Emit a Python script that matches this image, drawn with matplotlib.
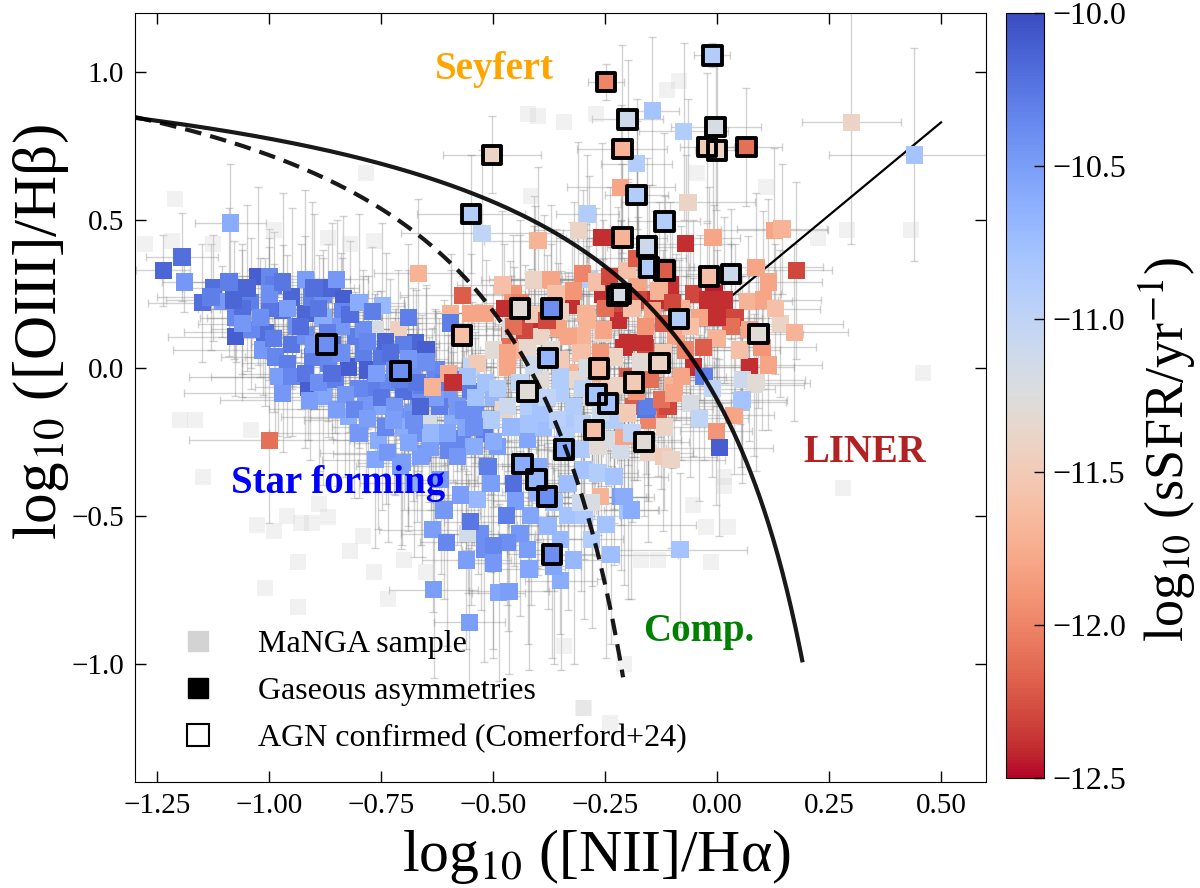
import numpy as np
import matplotlib
matplotlib.use('Agg')
import matplotlib.pyplot as plt
from matplotlib.lines import Line2D
from matplotlib.ticker import FuncFormatter

plt.rcParams['font.family'] = ['Liberation Serif', 'DejaVu Serif']
plt.rcParams['mathtext.fontset'] = 'stix'
plt.rcParams['axes.unicode_minus'] = True

# --- star-forming branch (gaseous asymmetries) ---
sf_nii = [-1.237, -1.195, -1.19, -1.15, -1.125, -1.09, -1.105, -1.076, -1.075, -1.042,
          -1.025, -1.0, -0.99, -1.01, -1.04, -1.015, -0.987, -0.97, -0.95, -0.94,
          -0.96, -0.97, -0.913, -0.92, -0.905, -0.88, -0.86, -0.835, -0.837, -0.88,
          -0.904, -0.868, -0.88, -0.91, -0.853, -0.823, -0.808, -0.79, -0.78, -0.763,
          -0.748, -0.79, -0.823, -0.785, -0.8, -0.763, -0.734, -0.748, -0.757, -0.718,
          -0.712, -0.69, -0.673, -0.65, -0.68, -0.628, -0.644, -0.667, -0.69, -0.628,
          -0.658, -0.59, -0.763, -0.703, -1.087, -0.95, -0.92, -0.86, -0.84, -0.75,
          -0.72, -0.70, -0.74, -0.66, -0.60, -0.62, -0.70, -0.85, -0.80, -1.0,
          -1.05, -0.98, -0.92, -0.89, -0.74, -0.68, -0.57, -0.55]
sf_oiii = [0.33, 0.375, 0.29, 0.22, 0.27, 0.29, 0.225, 0.105, 0.17, 0.22,
           0.31, 0.31, 0.28, 0.12, 0.13, 0.06, 0.037, 0.195, 0.24, 0.14,
           0.016, -0.085, -0.065, 0.185, 0.24, 0.25, 0.27, 0.235, 0.19, 0.17,
           0.037, 0.016, -0.097, -0.11, -0.04, 0.003, 0.105, 0.05, -0.007, 0.13,
           0.21, 0.13, -0.165, -0.12, -0.22, -0.065, -0.05, -0.13, -0.245, -0.165,
           0.13, 0.17, 0.085, 0.06, -0.03, -0.007, -0.175, -0.097, -0.23, -0.23,
           -0.29, -0.165, -0.31, -0.32, 0.49, 0.08, 0.11, 0.08, 0.14, 0.04,
           0.0, 0.08, 0.09, -0.06, -0.09, -0.13, -0.08, -0.14, -0.07, 0.2,
           0.27, -0.03, 0.3, 0.2, -0.2, -0.15, -0.24, -0.08]
sf_ssfr = [-10.15, -10.2, -10.45, -10.2, -10.2, -10.3, -10.45, -10.1, -10.35, -10.3,
           -10.1, -10.35, -10.3, -10.2, -10.35, -10.45, -10.35, -10.2, -10.15, -10.4,
           -10.3, -10.45, -10.1, -10.15, -10.3, -10.4, -10.15, -10.1, -10.35, -10.6,
           -10.3, -10.35, -10.55, -10.5, -10.3, -10.1, -10.3, -10.3, -10.1, -11.2,
           -10.7, -10.4, -10.6, -10.45, -10.45, -10.3, -10.35, -10.55, -10.6, -10.4,
           -11.45, -10.3, -10.15, -10.1, -10.4, -10.35, -11.2, -10.4, -10.5, -10.4,
           -10.45, -10.6, -10.55, -10.5, -10.6, -10.25, -10.4, -10.2, -10.45, -10.25,
           -10.4, -10.3, -10.15, -10.3, -10.45, -10.3, -10.2, -10.5, -10.35, -10.25,
           -10.15, -10.5, -10.5, -10.25, -10.35, -10.45, -10.35, -10.3]
sf_enii = [0.06, 0.08, 0.05, 0.12, 0.07, 0.1, 0.06, 0.15, 0.08, 0.12,
           0.05, 0.1, 0.07, 0.18, 0.09, 0.2, 0.12, 0.06, 0.08, 0.15,
           0.1, 0.22, 0.12, 0.08, 0.06, 0.1, 0.05, 0.07, 0.12, 0.09,
           0.15, 0.1, 0.18, 0.2, 0.12, 0.08, 0.1, 0.14, 0.09, 0.06,
           0.05, 0.11, 0.15, 0.1, 0.2, 0.08, 0.12, 0.16, 0.1, 0.07,
           0.08, 0.06, 0.1, 0.05, 0.09, 0.12, 0.14, 0.07, 0.1, 0.08,
           0.2, 0.06, 0.12, 0.1, 0.08, 0.09, 0.1, 0.06, 0.07, 0.11,
           0.05, 0.08, 0.06, 0.1, 0.07, 0.12, 0.09, 0.15, 0.11, 0.13,
           0.07, 0.2, 0.1, 0.08, 0.12, 0.09, 0.06, 0.1]
sf_eoiii = [0.12, 0.15, 0.1, 0.2, 0.18, 0.25, 0.12, 0.2, 0.15, 0.22,
            0.3, 0.1, 0.18, 0.25, 0.2, 0.15, 0.28, 0.22, 0.3, 0.12,
            0.25, 0.2, 0.18, 0.26, 0.32, 0.15, 0.22, 0.28, 0.18, 0.2,
            0.15, 0.25, 0.3, 0.2, 0.18, 0.22, 0.15, 0.26, 0.2, 0.12,
            0.28, 0.2, 0.25, 0.3, 0.22, 0.18, 0.24, 0.35, 0.3, 0.25,
            0.2, 0.25, 0.18, 0.22, 0.3, 0.2, 0.28, 0.25, 0.32, 0.3,
            0.35, 0.22, 0.3, 0.28, 0.2, 0.15, 0.2, 0.18, 0.25, 0.22,
            0.2, 0.16, 0.3, 0.24, 0.2, 0.3, 0.22, 0.26, 0.2, 0.24,
            0.28, 0.2, 0.3, 0.18, 0.26, 0.3, 0.35, 0.22]

# --- dense core of the star-forming branch ---
core_nii = [-1.06, -1.02, -0.99, -0.96, -0.93, -0.9, -0.87, -0.84, -0.82, -0.8,
            -0.78, -0.76, -0.73, -0.71, -0.69, -0.67, -0.65, -0.63, -0.61, -0.58,
            -0.95, -0.92, -0.89, -0.86, -0.83, -0.81, -0.78, -0.75, -0.72, -0.7,
            -0.67, -0.64, -0.6, -0.56, -0.54, -0.52, -0.5, -1.13, -1.08, -1.06,
            -1.0, -0.97, -0.9, -0.85, -0.77]
core_oiii = [0.2, 0.17, 0.1, 0.2, 0.14, 0.08, 0.12, 0.05, 0.18, 0.22,
             0.09, -0.02, 0.05, -0.04, 0.03, -0.05, 0.02, -0.1, -0.05, -0.13,
             -0.03, -0.02, -0.05, -0.02, -0.09, -0.14, -0.17, -0.1, -0.13, -0.2,
             -0.22, -0.27, -0.28, -0.2, -0.15, -0.22, -0.1, 0.24, 0.23, 0.15,
             0.25, 0.29, 0.27, 0.3, 0.19]
core_ssfr = [-10.2, -10.4, -10.3, -10.5, -10.2, -10.45, -10.3, -10.4, -10.2, -10.6,
             -10.35, -10.5, -10.2, -10.3, -10.45, -10.25, -10.4, -10.5, -10.3, -10.45,
             -10.35, -10.25, -10.4, -10.2, -10.45, -10.35, -10.5, -10.25, -10.45, -10.6,
             -10.4, -10.5, -10.35, -10.55, -10.4, -10.3, -10.7, -10.3, -10.15, -10.45,
             -10.4, -10.25, -10.2, -10.45, -10.3]
core_enii = [0.1, 0.12, 0.08, 0.15, 0.1, 0.07, 0.12, 0.09, 0.06, 0.1,
             0.08, 0.12, 0.1, 0.07, 0.09, 0.11, 0.08, 0.1, 0.06, 0.08,
             0.18, 0.14, 0.1, 0.12, 0.08, 0.1, 0.13, 0.09, 0.07, 0.1,
             0.08, 0.12, 0.1, 0.07, 0.06, 0.09, 0.08, 0.12, 0.15, 0.1,
             0.08, 0.12, 0.1, 0.07, 0.09]
core_eoiii = [0.22, 0.2, 0.25, 0.18, 0.28, 0.22, 0.3, 0.2, 0.25, 0.3,
              0.22, 0.28, 0.25, 0.2, 0.3, 0.22, 0.25, 0.3, 0.28, 0.22,
              0.2, 0.25, 0.3, 0.22, 0.28, 0.3, 0.25, 0.22, 0.3, 0.28,
              0.3, 0.25, 0.28, 0.3, 0.25, 0.22, 0.28, 0.18, 0.2, 0.25,
              0.22, 0.3, 0.25, 0.2, 0.22]

# --- lower tail of the star-forming sequence ---
tail_nii = [-0.633, -0.553, -0.635, -0.604, -0.573, -0.61, -0.52, -0.5, -0.488, -0.465,
            -0.349, -0.32, -0.365, -0.237, -0.248, -0.423, -0.44, -0.468, -0.528, -0.5,
            -0.416, -0.378, -0.333, -0.297, -0.304, -0.26, -0.215, -0.2, -0.557, -0.535,
            -0.505, -0.512, -0.454, -0.49, -0.543, -0.58, -0.602, -0.64, -0.662, -0.69,
            -0.677, -0.722, -0.736, -0.707, -0.617, -0.677, -0.423, -0.387, -0.333, -0.297,
            -0.266, -0.23, -0.333, -0.364, -0.4, -0.304, -0.266, -0.23, -0.215, -0.154,
            -0.12, -0.132, -0.154, -0.186, -0.11, -0.208, -0.662, -0.566, -0.54, -0.476,
            -0.42, -0.45, -0.47, -0.40, -0.35, -0.28, -0.56, -0.42, -0.55, -0.208,
            -0.192, -0.28, -0.083, -0.103, -0.118, -0.159, -0.002, 0.005, 0.054, 0.038,
            0.083, -1.0]
tail_oiii = [-0.75, -0.86, -0.547, -0.59, -0.43, -0.48, -0.615, -0.66, -0.76, -0.755,
             -0.72, -0.65, -0.67, -0.632, -0.53, -0.615, -0.56, -0.59, -0.56, -0.6,
             -0.5, -0.535, -0.5, -0.5, -0.456, -0.435, -0.435, -0.48, -0.56, -0.446,
             -0.39, -0.333, -0.39, -0.266, -0.266, -0.3, -0.22, -0.22, -0.3, -0.253,
             -0.176, -0.176, -0.287, -0.333, -0.378, -0.39, -0.243, -0.2, -0.186, -0.345,
             -0.355, -0.368, -0.39, -0.456, -0.333, -0.277, -0.266, -0.243, -0.28, -0.287,
             -0.30, -0.165, -0.176, -0.13, -0.13, -0.233, -0.13, -0.142, -0.1, -0.142,
             -0.14, -0.45, -0.5, -0.42, -0.58, -0.58, -0.65, -0.68, -0.52, -0.435,
             -0.48, -0.456, -0.615, -0.31, -0.2, -0.14, -0.215, -0.27, -0.115, -0.16,
             -0.057, -0.245]
tail_ssfr = [-10.5, -10.5, -10.5, -10.35, -10.5, -10.45, -10.4, -10.45, -10.55, -10.5,
             -10.6, -10.7, -10.55, -10.75, -10.8, -10.5, -10.45, -10.4, -10.4, -10.35,
             -10.55, -10.7, -10.8, -10.85, -11.1, -11.7, -10.5, -10.8, -11.15, -10.7,
             -10.5, -10.3, -10.2, -10.5, -10.6, -10.45, -10.55, -10.7, -10.5, -10.55,
             -10.4, -10.5, -10.45, -10.5, -10.45, -10.6, -10.55, -10.75, -10.85, -10.8,
             -10.9, -10.8, -10.75, -10.8, -10.6, -10.85, -11.3, -11.2, -11.15, -11.4,
             -11.5, -12.2, -12.0, -12.2, -12.3, -11.8, -10.15, -10.4, -10.8, -11.4,
             -10.9, -10.5, -10.3, -10.65, -10.7, -10.9, -10.5, -10.55, -10.25, -10.6,
             -10.6, -11.2, -10.8, -11.4, -11.4, -10.25, -11.9, -10.1, -10.8, -11.8,
             -11.3, -12.1]
tail_enii = [0.1, 0.08, 0.12, 0.06, 0.1, 0.08, 0.05, 0.07, 0.06, 0.09,
             0.08, 0.1, 0.06, 0.15, 0.2, 0.07, 0.05, 0.08, 0.1, 0.06,
             0.07, 0.09, 0.05, 0.08, 0.1, 0.12, 0.06, 0.07, 0.15, 0.1,
             0.08, 0.06, 0.1, 0.09, 0.12, 0.08, 0.1, 0.15, 0.07, 0.12,
             0.1, 0.2, 0.15, 0.1, 0.08, 0.12, 0.06, 0.08, 0.1, 0.07,
             0.09, 0.12, 0.06, 0.05, 0.08, 0.1, 0.12, 0.15, 0.08, 0.1,
             0.12, 0.09, 0.1, 0.08, 0.12, 0.07, 0.15, 0.1, 0.08, 0.06,
             0.07, 0.05, 0.06, 0.08, 0.06, 0.07, 0.1, 0.08, 0.06, 0.05,
             0.06, 0.1, 0.15, 0.12, 0.1, 0.15, 0.08, 0.12, 0.1, 0.09,
             0.11, 0.18]
tail_eoiii = [0.3, 0.25, 0.28, 0.35, 0.22, 0.3, 0.38, 0.32, 0.3, 0.28,
              0.3, 0.35, 0.33, 0.3, 0.45, 0.32, 0.28, 0.3, 0.26, 0.35,
              0.3, 0.28, 0.32, 0.35, 0.3, 0.28, 0.25, 0.3, 0.2, 0.25,
              0.3, 0.22, 0.28, 0.2, 0.24, 0.3, 0.22, 0.26, 0.3, 0.28,
              0.2, 0.25, 0.3, 0.28, 0.32, 0.25, 0.22, 0.2, 0.25, 0.3,
              0.28, 0.3, 0.26, 0.3, 0.25, 0.22, 0.3, 0.28, 0.25, 0.3,
              0.25, 0.2, 0.22, 0.25, 0.2, 0.25, 0.18, 0.2, 0.22, 0.25,
              0.2, 0.32, 0.3, 0.28, 0.32, 0.3, 0.3, 0.34, 0.28, 0.3,
              0.3, 0.28, 0.26, 0.3, 0.28, 0.22, 0.25, 0.3, 0.22, 0.2,
              0.24, 0.28]

# --- composite / Seyfert / LINER region ---
mix_nii = [-0.145, -0.075, -0.18, -0.215, -0.065, -0.29, -0.31, -0.40, -0.525, -0.257,
           -0.07, -0.009, 0.128, 0.145, 0.177, 0.087, 0.114, -0.2, -0.387, -0.407,
           -0.286, -0.456, -0.568, -0.475, -0.325, -0.293, -0.255, -0.177, -0.138, -0.177,
           -0.053, -0.007, 0.016, -0.022, 0.068, 0.103, 0.04, 0.031, 0.072, 0.141,
           0.172, -0.038, -0.145, -0.215, -0.355, -0.416, -0.463, -0.517, -0.595, -0.255,
           -0.30, -0.208, -0.16, -0.092, -0.053, 0.072, 0.114, 0.0, -0.029, 0.056,
           0.087, 0.056, -0.155, -0.10, -0.3, -0.44, -0.50, -0.46, -0.33, -0.472,
           -0.548, -0.517, -0.595, -0.55, -0.41, -0.371, -0.22, -0.2, -0.163, -0.253,
           -0.289, -0.333, -0.304, -0.23, -0.349, -0.394, -0.43, -0.454, -0.423, -0.468,
           -0.535, -0.557, -0.595, -0.468, -0.394, -0.349, -0.311, -0.349, -0.32, -0.356,
           -0.394, -0.468, -0.505, -0.543, -0.23, -0.2, -0.125, -0.096, -0.08, -0.011,
           -0.26, -0.14, -0.20, -0.12, -0.08, -0.25, -0.36, -0.18, -0.105, -0.26,
           -0.28, -0.24, -0.07, -0.667, -0.60, -0.636, -0.59, 0.30, 0.44]
mix_oiii = [0.87, 0.80, 0.69, 0.61, 0.56, 0.52, 0.465, 0.43, 0.455, 0.44,
            0.42, 0.44, 0.465, 0.47, 0.33, 0.34, 0.29, 0.33, 0.297, 0.297,
            0.30, 0.25, 0.245, 0.20, 0.213, 0.185, 0.25, 0.275, 0.23, 0.23,
            0.25, 0.25, 0.23, 0.23, 0.225, 0.23, 0.17, 0.14, 0.13, 0.15,
            0.12, 0.17, 0.195, 0.195, 0.135, 0.135, 0.11, 0.185, 0.185, 0.118,
            0.11, 0.07, 0.07, 0.105, 0.003, 0.003, 0.01, 0.10, -0.03, -0.04,
            -0.05, -0.108, -0.13, -0.06, 0.06, 0.06, 0.06, 0.13, -0.017, 0.003,
            0.003, -0.05, 0.152, 0.185, 0.3, 0.30, 0.16, 0.085, 0.085, 0.128,
            0.162, 0.105, 0.05, 0.037, 0.027, 0.105, 0.128, 0.14, 0.07, 0.05,
            0.016, -0.03, -0.04, 0.003, -0.04, -0.03, -0.04, -0.085, -0.13, -0.176,
            -0.153, -0.13, -0.176, -0.2, -0.176, -0.153, -0.108, -0.085, -0.03, -0.07,
            -0.02, 0.0, -0.03, 0.15, 0.20, 0.20, 0.25, 0.37, 0.28, 0.05,
            -0.1, -0.07, 0.06, 0.32, -0.02, -0.065, -0.05, 0.83, 0.72]
mix_ssfr = [-10.8, -10.9, -10.9, -11.8, -11.4, -10.9, -11.4, -11.7, -11.0, -12.4,
            -12.4, -11.8, -11.8, -11.7, -12.3, -11.8, -11.8, -11.6, -11.8, -11.5,
            -10.9, -11.9, -12.2, -12.4, -12.4, -11.7, -12.4, -11.8, -12.4, -12.3,
            -12.3, -12.45, -12.4, -12.4, -11.7, -11.8, -12.3, -12.1, -11.8, -11.4,
            -11.7, -11.8, -11.8, -12.3, -11.8, -12.4, -12.1, -11.8, -11.7, -11.4,
            -11.7, -12.4, -12.3, -11.8, -12.4, -12.4, -11.8, -11.7, -10.3, -11.1,
            -11.3, -10.8, -10.3, -11.7, -11.7, -11.7, -11.3, -11.2, -11.7, -11.3,
            -11.0, -10.8, -10.3, -11.8, -11.4, -11.8, -12.4, -12.4, -12.4, -11.8,
            -11.7, -11.8, -11.6, -11.4, -11.5, -11.4, -12.3, -12.1, -11.35, -11.8,
            -11.5, -10.8, -10.3, -11.8, -11.3, -10.9, -11.35, -10.9, -10.9, -10.95,
            -10.8, -11.1, -10.9, -10.4, -10.9, -11.5, -12.1, -11.8, -11.8, -11.0,
            -11.8, -11.6, -12.2, -12.2, -11.7, -12.1, -11.6, -12.2, -12.4, -11.9,
            -11.2, -11.5, -12.0, -11.7, -11.75, -11.7, -12.4, -11.4, -10.8]
mix_enii = [0.06, 0.1, 0.08, 0.12, 0.15, 0.07, 0.1, 0.12, 0.18, 0.08,
            0.1, 0.06, 0.12, 0.1, 0.08, 0.15, 0.12, 0.1, 0.08, 0.12,
            0.06, 0.1, 0.14, 0.08, 0.12, 0.1, 0.07, 0.09, 0.11, 0.08,
            0.1, 0.15, 0.12, 0.08, 0.1, 0.13, 0.09, 0.12, 0.1, 0.14,
            0.12, 0.08, 0.1, 0.07, 0.09, 0.1, 0.12, 0.08, 0.1, 0.06,
            0.09, 0.12, 0.1, 0.08, 0.15, 0.1, 0.12, 0.08, 0.1, 0.14,
            0.12, 0.1, 0.08, 0.1, 0.07, 0.09, 0.06, 0.1, 0.08, 0.1,
            0.09, 0.12, 0.1, 0.08, 0.1, 0.09, 0.06, 0.08, 0.1, 0.07,
            0.09, 0.1, 0.08, 0.06, 0.1, 0.08, 0.07, 0.09, 0.06, 0.08,
            0.1, 0.12, 0.1, 0.07, 0.08, 0.06, 0.09, 0.08, 0.1, 0.07,
            0.08, 0.1, 0.12, 0.09, 0.07, 0.1, 0.12, 0.15, 0.1, 0.14,
            0.08, 0.1, 0.07, 0.12, 0.1, 0.08, 0.09, 0.11, 0.12, 0.07,
            0.08, 0.06, 0.13, 0.1, 0.1, 0.08, 0.12, 0.11, 0.19]
mix_eoiii = [0.25, 0.3, 0.22, 0.28, 0.35, 0.2, 0.3, 0.25, 0.28, 0.32,
             0.3, 0.35, 0.28, 0.22, 0.3, 0.25, 0.28, 0.3, 0.22, 0.25,
             0.35, 0.2, 0.25, 0.22, 0.28, 0.3, 0.25, 0.32, 0.3, 0.28,
             0.25, 0.3, 0.28, 0.26, 0.22, 0.3, 0.25, 0.28, 0.2, 0.25,
             0.3, 0.28, 0.25, 0.3, 0.22, 0.2, 0.25, 0.18, 0.2, 0.25,
             0.28, 0.3, 0.25, 0.28, 0.3, 0.25, 0.22, 0.3, 0.28, 0.35,
             0.3, 0.25, 0.32, 0.28, 0.22, 0.2, 0.22, 0.18, 0.25, 0.2,
             0.22, 0.25, 0.18, 0.2, 0.28, 0.25, 0.3, 0.28, 0.25, 0.22,
             0.25, 0.22, 0.28, 0.25, 0.3, 0.2, 0.22, 0.2, 0.25, 0.22,
             0.2, 0.22, 0.2, 0.25, 0.22, 0.28, 0.25, 0.28, 0.3, 0.25,
             0.28, 0.22, 0.25, 0.22, 0.3, 0.28, 0.3, 0.25, 0.28, 0.3,
             0.25, 0.28, 0.3, 0.25, 0.28, 0.25, 0.22, 0.3, 0.28, 0.25,
             0.28, 0.3, 0.25, 0.25, 0.22, 0.2, 0.25, 0.41, 0.36]

# --- dense part of the composite region ---
comp_nii = [-0.48, -0.44, -0.41, -0.38, -0.35, -0.32, -0.3, -0.27, -0.24, -0.19,
            -0.16, -0.13, -0.1, -0.06, -0.03, 0.0, 0.05, 0.1, 0.13, -0.12,
            -0.17, -0.22, -0.29, -0.37, -0.41, -0.44, -0.49, -0.46, -0.42, -0.38,
            -0.3, -0.26, -0.18, -0.15, -0.06, -0.04, -0.19, -0.34, -0.5, -0.3]
comp_oiii = [0.28, 0.22, 0.18, 0.16, 0.19, 0.26, 0.32, 0.29, 0.31, 0.2,
             0.14, 0.26, 0.22, 0.14, 0.07, 0.17, 0.06, 0.07, 0.2, 0.05,
             0.02, -0.06, 0.0, 0.06, 0.01, -0.05, -0.07, -0.2, -0.19, -0.1,
             -0.07, -0.15, -0.08, -0.04, -0.12, -0.17, -0.22, -0.23, -0.25, -0.19]
comp_ssfr = [-11.6, -12.0, -11.5, -12.3, -11.4, -11.9, -12.0, -11.6, -12.3, -11.6,
             -11.9, -11.7, -12.3, -11.6, -12.2, -12.4, -11.6, -11.9, -11.6, -11.5,
             -11.3, -11.4, -11.2, -11.3, -11.1, -11.0, -10.9, -10.7, -10.8, -11.0,
             -11.0, -11.1, -11.9, -12.1, -11.2, -11.0, -11.0, -10.9, -10.6, -10.95]
comp_enii = [0.1, 0.08, 0.12, 0.07, 0.09, 0.1, 0.12, 0.08, 0.1, 0.07,
             0.09, 0.12, 0.1, 0.08, 0.11, 0.1, 0.09, 0.12, 0.1, 0.08,
             0.07, 0.09, 0.1, 0.08, 0.06, 0.09, 0.1, 0.07, 0.08, 0.09,
             0.1, 0.08, 0.12, 0.1, 0.09, 0.11, 0.08, 0.07, 0.1, 0.08]
comp_eoiii = [0.25, 0.28, 0.3, 0.22, 0.25, 0.3, 0.28, 0.25, 0.3, 0.22,
              0.28, 0.3, 0.25, 0.28, 0.22, 0.3, 0.25, 0.28, 0.22, 0.25,
              0.22, 0.28, 0.25, 0.22, 0.2, 0.25, 0.22, 0.28, 0.25, 0.22,
              0.28, 0.25, 0.3, 0.22, 0.25, 0.28, 0.3, 0.25, 0.22, 0.28]

# --- AGN confirmed (Comerford+24) ---
agn_nii = [-0.011, -0.248, -0.20, -0.503, -0.003, -0.023, 0.0, 0.065, -0.212, -0.18,
           -0.55, -0.118, -0.212, -0.157, -0.152, -0.117, -0.018, 0.031, -0.222, -0.215,
           -0.44, -0.37, -0.085, 0.092, -0.57, -0.872, -0.707, -0.378, -0.128, -0.264,
           -0.186, -0.423, -0.27, -0.244, -0.275, -0.163, -0.342, -0.434, -0.403, -0.38,
           -0.369]
agn_oiii = [1.057, 0.966, 0.84, 0.72, 0.815, 0.747, 0.735, 0.747, 0.74, 0.585,
            0.52, 0.495, 0.44, 0.41, 0.34, 0.33, 0.31, 0.318, 0.243, 0.25,
            0.20, 0.20, 0.165, 0.115, 0.11, 0.08, -0.01, 0.034, 0.017, -0.003,
            -0.05, -0.08, -0.09, -0.12, -0.21, -0.25, -0.275, -0.325, -0.378, -0.435,
            -0.63]
agn_ssfr = [-10.9, -12.0, -11.1, -11.4, -11.2, -11.5, -11.4, -12.1, -11.7, -10.9,
            -10.9, -10.9, -11.7, -11.1, -10.9, -12.2, -11.6, -11.1, -11.2, -11.2,
            -11.3, -10.4, -10.9, -11.3, -11.6, -10.4, -10.4, -10.7, -11.4, -11.6,
            -11.5, -11.3, -10.8, -10.8, -11.6, -11.3, -10.6, -10.6, -10.7, -10.4,
            -10.4]
agn_enii = [0.04, 0.04, 0.08, 0.11, 0.1, 0.06, 0.05, 0.08, 0.1, 0.07,
            0.12, 0.08, 0.1, 0.09, 0.1, 0.08, 0.12, 0.1, 0.08, 0.1,
            0.12, 0.1, 0.08, 0.1, 0.1, 0.12, 0.1, 0.09, 0.08, 0.1,
            0.1, 0.08, 0.1, 0.12, 0.08, 0.1, 0.08, 0.1, 0.07, 0.08,
            0.1]
agn_eoiii = [0.04, 0.06, 0.2, 0.13, 0.28, 0.25, 0.3, 0.2, 0.35, 0.25,
             0.2, 0.3, 0.25, 0.3, 0.28, 0.25, 0.3, 0.22, 0.3, 0.25,
             0.25, 0.22, 0.2, 0.25, 0.2, 0.15, 0.2, 0.22, 0.25, 0.28,
             0.25, 0.25, 0.3, 0.28, 0.3, 0.25, 0.28, 0.3, 0.3, 0.32,
             0.35]

# --- faint MaNGA parent sample (visible outliers) ---
manga_nii = [-1.2, -1.166, -1.148, -1.027, -0.99, -0.96, -0.93, -0.905, -0.868, -0.89,
             -0.937, -0.82, -0.79, -1.01, -0.937, -0.736, -0.767, -0.7, -0.65, -0.342,
             -0.3, -0.24, -1.042, -0.423, -0.4, -0.342, -0.785, -0.99, -1.277, -1.21,
             -0.82, -0.767, -0.87, -1.125, -1.217, -0.27, -0.085, -0.112, -0.045, 0.11,
             0.29, 0.434, 0.46, 0.225, -0.416, 0.28, 0.016, 0.016, -0.025, 0.025,
             -0.054, -0.17, -0.132, -0.013, -0.208, -0.297]
manga_oiii = [-0.176, -0.176, -0.37, -0.53, -0.55, -0.5, -0.525, -0.525, -0.503, -0.46,
              -0.655, -0.62, -0.57, -0.745, -0.81, -0.78, -0.69, -0.65, -0.69, -0.94,
              -1.15, -1.2, -0.21, 0.86, 0.85, 0.83, 0.66, 0.466, 0.42, 0.57,
              0.42, 0.43, 0.44, 0.42, 0.43, 0.86, 0.97, 0.94, 0.66, 0.61,
              0.466, 0.466, -0.017, 0.44, 0.58, -0.405, -0.368, -0.4, -0.537, -0.537,
              -0.463, -0.65, -0.65, -0.655, -1.0, -1.15]

# thin Seyfert/LINER separation segment (end points)
sep_x = [0.03, 0.50]
sep_y = [0.24, 0.83]

x = np.array(sf_nii + core_nii + tail_nii + mix_nii + comp_nii + agn_nii)
y = np.array(sf_oiii + core_oiii + tail_oiii + mix_oiii + comp_oiii + agn_oiii)
c = np.array(sf_ssfr + core_ssfr + tail_ssfr + mix_ssfr + comp_ssfr + agn_ssfr)
ex = np.array(sf_enii + core_enii + tail_enii + mix_enii + comp_enii + agn_enii)
ey = np.array(sf_eoiii + core_eoiii + tail_eoiii + mix_eoiii + comp_eoiii + agn_eoiii)


def minus_fmt(fmt):
    return FuncFormatter(lambda v, pos: (fmt % v).replace('-', '\u2212'))


fig = plt.figure(figsize=(12, 8.88), dpi=100)
ax = fig.add_axes([0.1125, 0.1194, 0.709, 0.866])

# error bars
ax.errorbar(x, y, xerr=ex, yerr=ey, fmt='none', ecolor='grey', alpha=0.35,
            elinewidth=1, capsize=3, capthick=1, zorder=1)

# MaNGA parent sample
ax.scatter(manga_nii, manga_oiii, marker='s', s=120, color='lightgrey',
           alpha=0.3, linewidths=0, zorder=2)

# gaseous asymmetries coloured by sSFR
sc = ax.scatter(x, y, c=c, cmap='coolwarm_r', vmin=-12.5, vmax=-10.0,
                marker='s', s=155, linewidths=0, zorder=3)

# AGN confirmed
ax.scatter(agn_nii, agn_oiii, marker='s', s=180, facecolors='none',
           edgecolors='black', linewidths=2.8, zorder=5)

# demarcation lines
xk = np.linspace(-1.3, 0.19, 300)
ax.plot(xk, 0.61 / (xk - 0.47) + 1.19, color='black', lw=3, alpha=0.9, zorder=4)
xf = np.linspace(-1.3, -0.21, 300)
ax.plot(xf, 0.61 / (xf - 0.05) + 1.3, color='black', lw=3, ls=(0, (4, 2.2)),
        alpha=0.9, zorder=4)
ax.plot(sep_x, sep_y, color='black', lw=1.6, zorder=2.5)

# region labels
ax.text(-0.497, 1.01, 'Seyfert', color='orange', fontsize=28,
        fontweight='bold', ha='center', va='center', zorder=6)
ax.text(-0.846, -0.39, 'Star forming', color='blue', fontsize=28,
        fontweight='bold', ha='center', va='center', zorder=6)
ax.text(0.33, -0.287, 'LINER', color='firebrick', fontsize=28,
        fontweight='bold', ha='center', va='center', zorder=6)
ax.text(-0.04, -0.89, 'Comp.', color='green', fontsize=28,
        fontweight='bold', ha='center', va='center', zorder=6)

ax.set_xlim(-1.3, 0.6)
ax.set_ylim(-1.4, 1.2)
ax.set_xticks([-1.25, -1.0, -0.75, -0.5, -0.25, 0.0, 0.25, 0.5])
ax.set_yticks([-1.0, -0.5, 0.0, 0.5, 1.0])
ax.xaxis.set_major_formatter(minus_fmt('%.2f'))
ax.yaxis.set_major_formatter(minus_fmt('%.1f'))
ax.tick_params(direction='in', top=True, right=True, length=8, width=1,
               labelsize=21, pad=8)
ax.set_xlabel('log$_{10}$ ([NII]/Hα)', fontsize=43)
ax.set_ylabel('log$_{10}$ ([OIII]/Hβ)', fontsize=44)
ax.xaxis.set_label_coords(0.542, -0.058)
ax.yaxis.set_label_coords(-0.075, 0.585)

handles = [
    Line2D([], [], marker='s', ls='none', color='lightgrey', markersize=14),
    Line2D([], [], marker='s', ls='none', color='black', markersize=14),
    Line2D([], [], marker='s', ls='none', markerfacecolor='white',
           markeredgecolor='black', markeredgewidth=1.5, markersize=16),
]
labels = ['MaNGA sample', 'Gaseous asymmetries', 'AGN confirmed (Comerford+24)']
ax.legend(handles, labels, loc='lower left', bbox_to_anchor=(0.055, 0.038),
          frameon=False, fontsize=23, handlelength=1.0, handletextpad=1.4,
          labelspacing=0.55, borderpad=0, borderaxespad=0)

cax = fig.add_axes([0.838, 0.124, 0.032, 0.861])
cb = fig.colorbar(sc, cax=cax)
cb.set_ticks([-10.0, -10.5, -11.0, -11.5, -12.0, -12.5])
cb.ax.yaxis.set_major_formatter(minus_fmt('%.1f'))
cb.ax.tick_params(direction='in', length=7, width=1, labelsize=23, pad=6)
cb.set_label('log$_{10}$ (sSFR/yr$^{-1}$)', fontsize=39)
cb.ax.yaxis.set_label_coords(3.4, 0.43)

fig.savefig('out.png', dpi=100)
